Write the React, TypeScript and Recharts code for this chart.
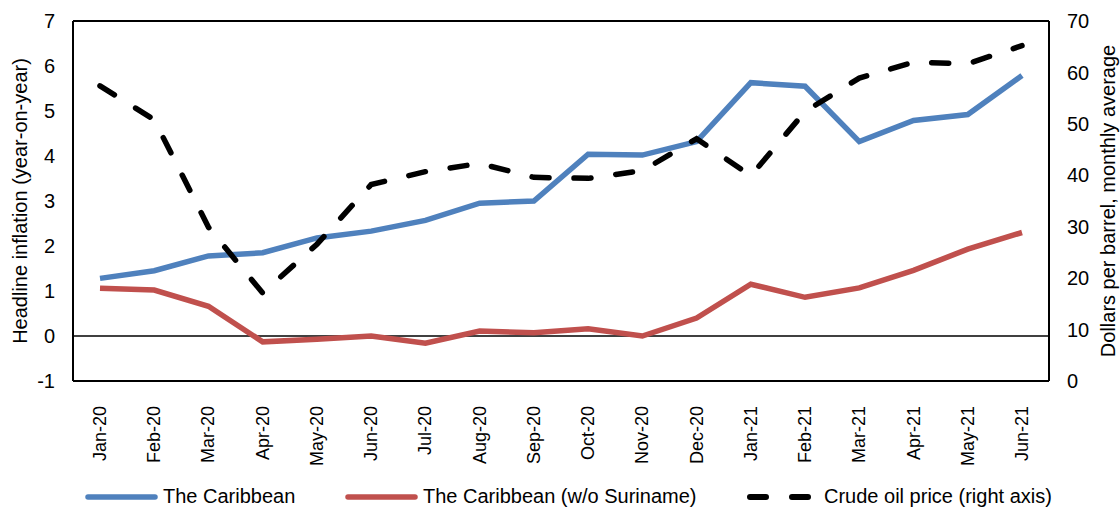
import React from 'react';
import {
  ComposedChart,
  Line,
  XAxis,
  YAxis,
  ReferenceLine,
} from 'recharts';

const months = [
  'Jan-20', 'Feb-20', 'Mar-20', 'Apr-20', 'May-20', 'Jun-20', 'Jul-20', 'Aug-20', 'Sep-20',
  'Oct-20', 'Nov-20', 'Dec-20', 'Jan-21', 'Feb-21', 'Mar-21', 'Apr-21', 'May-21', 'Jun-21',
];

const caribbean = [1.28, 1.45, 1.78, 1.85, 2.18, 2.33, 2.57, 2.95, 3.0, 4.04, 4.02, 4.32, 5.63, 5.55, 4.32, 4.79, 4.92, 5.79];
const caribbeanExSuriname = [1.06, 1.02, 0.66, -0.13, -0.07, 0.0, -0.16, 0.11, 0.07, 0.16, 0.0, 0.4, 1.15, 0.86, 1.07, 1.46, 1.93, 2.3];
const oilPrice = [57.4, 50.8, 29.9, 17.1, 26.6, 38.2, 40.7, 42.3, 39.6, 39.4, 40.9, 47.1, 39.9, 52.4, 58.9, 62.0, 61.7, 65.2];

const leftTicks = [-1, 0, 1, 2, 3, 4, 5, 6, 7];
const rightTicks = [0, 10, 20, 30, 40, 50, 60, 70];

const BLUE = '#4F81BD';
const RED = '#C0504D';
const FONT = '"Liberation Sans", Arial, sans-serif';

const data = months.map((m, i) => ({
  month: m,
  caribbean: caribbean[i],
  exSuriname: caribbeanExSuriname[i],
  oil: oilPrice[i],
}));

const MonthTick = (props: any) => {
  const { x, y, payload } = props;
  return (
    <text
      x={x}
      y={y}
      transform={`rotate(-90, ${x}, ${y})`}
      textAnchor="end"
      dominantBaseline="central"
      fontSize={18}
      fontFamily={FONT}
      fill="#000"
      dx={-17}
    >
      {payload.value}
    </text>
  );
};

// legend sits under the chart, drawn by hand to match the original spacing
const LegendRow = () => (
  <svg width={1120} height={38} style={{ display: 'block' }}>
    <line x1={88} y1={27} x2={155} y2={27} stroke={BLUE} strokeWidth={5.5} strokeLinecap="round" />
    <text x={163} y={33} fontSize={20} fontFamily={FONT} fill="#000">The Caribbean</text>
    <line x1={348} y1={27} x2={415} y2={27} stroke={RED} strokeWidth={5.5} strokeLinecap="round" />
    <text x={423} y={33} fontSize={20} fontFamily={FONT} fill="#000">The Caribbean (w/o Suriname)</text>
    <line x1={750} y1={27} x2={810} y2={27} stroke="#000" strokeWidth={6} strokeLinecap="round" strokeDasharray="16 26" />
    <text x={824} y={33} fontSize={20} fontFamily={FONT} fill="#000">Crude oil price (right axis)</text>
  </svg>
);

export default function App() {
  document.body.style.margin = '0';
  return (
    <div style={{ width: 1120, height: 508, background: '#fff', fontFamily: FONT }}>
      <ComposedChart
        width={1120}
        height={470}
        data={data}
        margin={{ top: 21, right: 0, bottom: 0, left: 0 }}
      >
        <XAxis
          dataKey="month"
          xAxisId="bottom"
          height={89}
          interval={0}
          padding={{ left: 27, right: 27 }}
          tickLine={false}
          axisLine={{ stroke: '#000', strokeWidth: 2 }}
          tick={<MonthTick />}
        />
        <YAxis
          yAxisId="left"
          orientation="left"
          width={73}
          domain={[-1, 7]}
          ticks={leftTicks}
          interval={0}
          tickLine={false}
          axisLine={{ stroke: '#000', strokeWidth: 2 }}
          tick={{ fill: '#000', fontSize: 20, fontFamily: FONT }}
          tickMargin={12}
          label={{
            value: 'Headline inflation (year-on-year)',
            angle: -90,
            position: 'insideLeft',
            offset: 20,
            style: { textAnchor: 'middle', fill: '#000', fontSize: 20, fontFamily: FONT },
          }}
        />
        <YAxis
          yAxisId="right"
          orientation="right"
          width={71}
          domain={[0, 70]}
          ticks={rightTicks}
          interval={0}
          tickLine={false}
          axisLine={{ stroke: '#000', strokeWidth: 2 }}
          tick={{ fill: '#000', fontSize: 20, fontFamily: FONT }}
          tickMargin={12}
          label={{
            value: 'Dollars per barrel, monthly average',
            angle: -90,
            position: 'insideRight',
            offset: 12,
            style: { textAnchor: 'middle', fill: '#000', fontSize: 20, fontFamily: FONT },
          }}
        />
        {/* top edge of the plot frame */}
        <ReferenceLine xAxisId="bottom" yAxisId="left" y={7} stroke="#000" strokeWidth={2} />
        <ReferenceLine xAxisId="bottom" yAxisId="left" y={0} stroke="#000" strokeWidth={1.5} />
        <Line
          xAxisId="bottom"
          yAxisId="left"
          type="linear"
          dataKey="caribbean"
          stroke={BLUE}
          strokeWidth={5.5}
          dot={false}
          isAnimationActive={false}
        />
        <Line
          xAxisId="bottom"
          yAxisId="left"
          type="linear"
          dataKey="exSuriname"
          stroke={RED}
          strokeWidth={5.5}
          dot={false}
          isAnimationActive={false}
        />
        <Line
          xAxisId="bottom"
          yAxisId="right"
          type="linear"
          dataKey="oil"
          stroke="#000"
          strokeWidth={5.5}
          strokeDasharray="17 25"
          strokeLinecap="round"
          dot={false}
          isAnimationActive={false}
        />
      </ComposedChart>
      <LegendRow />
    </div>
  );
}
